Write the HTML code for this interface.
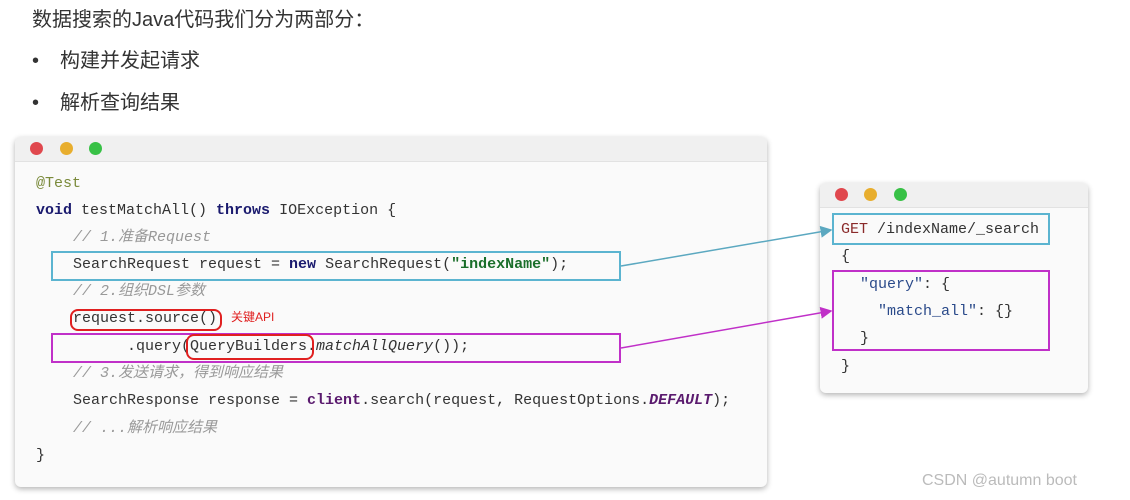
<!DOCTYPE html>
<html><head><meta charset="utf-8"><style>
body{margin:0;width:1130px;height:500px;background:#fff;position:relative;overflow:hidden;font-family:"Liberation Sans","Noto Sans CJK SC",sans-serif;}
.a{position:absolute;white-space:pre;}
.t{font-size:20px;color:#333;line-height:22px;}
.win{position:absolute;background:#fafafa;border-radius:6px;box-shadow:0 2px 6px rgba(0,0,0,.3);overflow:hidden;}
.bar{height:24px;background:#f0f0f0;border-bottom:1px solid #e2e2e2;}
.d{position:absolute;width:13px;height:13px;border-radius:50%;}
.c{position:absolute;white-space:pre;font-family:"Liberation Mono","Noto Sans CJK SC",monospace;font-size:15px;line-height:18px;color:#333;}
.k{color:#1a1a6e;font-weight:bold}
.cm{color:#999;font-style:italic}
.box{position:absolute;box-sizing:border-box;}
</style></head><body>
<div class="a t" style="left:32px;top:9px">数据搜索的Java代码我们分为两部分：</div>
<div class="a t" style="left:32px;top:50px">•</div><div class="a t" style="left:60px;top:50px">构建并发起请求</div>
<div class="a t" style="left:32px;top:92px">•</div><div class="a t" style="left:60px;top:92px">解析查询结果</div>

<div class="win" style="left:15px;top:137px;width:752px;height:350px"><div class="bar"></div>
<div class="d" style="left:15px;top:5px;background:#e0484e"></div>
<div class="d" style="left:45px;top:5px;background:#e8ae2e"></div>
<div class="d" style="left:74px;top:5px;background:#38c146"></div></div>

<div class="c" style="left:36px;top:175px;color:#7a8a3a">@Test</div>
<div class="c" style="left:36px;top:202px"><span class="k">void</span> testMatchAll() <span class="k">throws</span> IOException {</div>
<div class="c cm" style="left:73px;top:229px">// 1.准备Request</div>
<div class="c" style="left:73px;top:256px">SearchRequest request = <span class="k">new</span> SearchRequest(<span style="color:#1a6e2a;font-weight:bold">"indexName"</span>);</div>
<div class="c cm" style="left:73px;top:283px">// 2.组织DSL参数</div>
<div class="c" style="left:73px;top:310px">request.source()</div>
<div class="a" style="left:231px;top:308px;color:#e02020;font-size:12px">关键API</div>
<div class="c" style="left:127px;top:338px">.query(QueryBuilders.<i>matchAllQuery</i>());</div>
<div class="c cm" style="left:73px;top:365px">// 3.发送请求，得到响应结果</div>
<div class="c" style="left:73px;top:392px">SearchResponse response = <span style="color:#5a1a6e;font-weight:bold">client</span>.search(request, RequestOptions.<b><i style="color:#5a1a6e">DEFAULT</i></b>);</div>
<div class="c cm" style="left:73px;top:420px">// ...解析响应结果</div>
<div class="c" style="left:36px;top:447px">}</div>

<div class="box" style="left:51px;top:251px;width:570px;height:30px;border:2px solid #5bb4d0"></div>
<div class="box" style="left:70px;top:309px;width:152px;height:22px;border:2px solid #e02020;border-radius:8px"></div>
<div class="box" style="left:51px;top:333px;width:570px;height:30px;border:2px solid #c030c8"></div>
<div class="box" style="left:186px;top:334px;width:128px;height:26px;border:2px solid #e02020;border-radius:8px"></div>

<div class="win" style="left:820px;top:183px;width:268px;height:210px"><div class="bar"></div>
<div class="d" style="left:15px;top:5px;background:#e0484e"></div>
<div class="d" style="left:44px;top:5px;background:#e8ae2e"></div>
<div class="d" style="left:74px;top:5px;background:#38c146"></div></div>
<div class="c" style="left:841px;top:221px"><span style="color:#8a2a2a">GET</span> /indexName/_search</div>
<div class="c" style="left:841px;top:248px">{</div>
<div class="c" style="left:860px;top:276px"><span style="color:#2a4a8a">"query"</span>: {</div>
<div class="c" style="left:878px;top:303px"><span style="color:#2a4a8a">"match_all"</span>: {}</div>
<div class="c" style="left:860px;top:330px">}</div>
<div class="c" style="left:841px;top:358px">}</div>
<div class="box" style="left:832px;top:213px;width:218px;height:32px;border:2px solid #5bb4d0"></div>
<div class="box" style="left:832px;top:270px;width:218px;height:81px;border:2px solid #c030c8"></div>

<svg class="a" style="left:0;top:0" width="1130" height="500">
<defs><marker id="m1" markerWidth="8" markerHeight="8" refX="7" refY="4" orient="auto"><path d="M0,0 L8,4 L0,8z" fill="#5ba8c0"/></marker>
<marker id="m2" markerWidth="8" markerHeight="8" refX="7" refY="4" orient="auto"><path d="M0,0 L8,4 L0,8z" fill="#c030c8"/></marker></defs>
<line x1="621" y1="266" x2="831" y2="230" stroke="#5ba8c0" stroke-width="1.5" marker-end="url(#m1)"/>
<line x1="621" y1="348" x2="831" y2="311" stroke="#c030c8" stroke-width="1.5" marker-end="url(#m2)"/>
</svg>
<div class="a" style="left:922px;top:472px;color:#bbb;font-size:16px">CSDN @autumn boot</div>
</body></html>
